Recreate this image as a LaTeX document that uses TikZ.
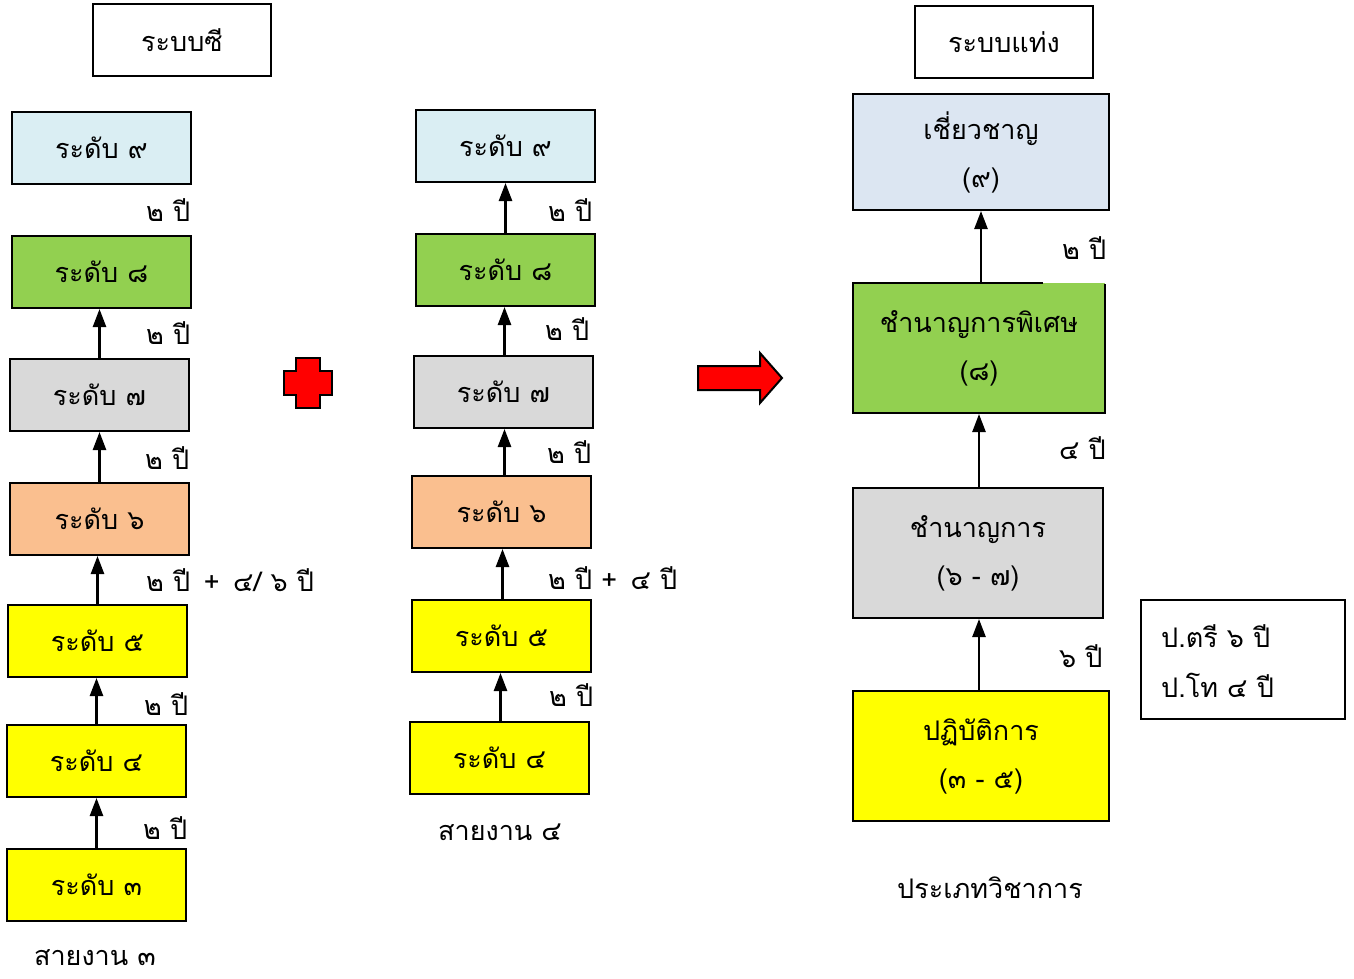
\documentclass[tikz,border=0pt]{standalone}
\usepackage{fontspec}
\newfontfamily\thai[Script=Thai]{Loma}
\usetikzlibrary{arrows.meta}
\definecolor{lblue}{HTML}{DAEEF3}
\definecolor{lgreen}{HTML}{92D050}
\definecolor{lgrey}{HTML}{D9D9D9}
\definecolor{peach}{HTML}{FABF8F}
\definecolor{yel}{HTML}{FFFF00}
\definecolor{bgrey}{HTML}{DCE6F2}
\definecolor{red0}{HTML}{FF0000}
\newcommand\tf{\thai\fontsize{27}{32}\selectfont}
\tikzset{
  box/.style={draw, line width=2pt, minimum width=179pt, minimum height=72pt, inner sep=0pt, font=\tf},
  bigbox/.style={draw, line width=2pt, inner sep=0pt, align=center, font=\thai\fontsize{27}{48}\selectfont},
  lbl/.style={anchor=west, inner sep=0pt, font=\tf},
  captxt/.style={inner sep=0pt, font=\tf},
  arr/.style={-{Triangle[length=18pt,width=13pt]}, line width=2.5pt},
  shp/.style={fill=red0, draw=black, line width=2pt, line join=miter}
}
\begin{document}
\begin{tikzpicture}[x=1pt, y=-1pt]
\useasboundingbox (0,0) rectangle (1354,979);
% titles
\node[box, fill=white, minimum width=178pt] (t1) at (182,40) {ระบบซี};
\node[box, fill=white, minimum width=178pt] (t2) at (1004,42) {ระบบแท่ง};
% left column
\node[box, fill=lblue] (L9) at (101.5,148) {ระดับ ๙};
\node[box, fill=lgreen] (L8) at (101.5,272) {ระดับ ๘};
\node[box, fill=lgrey] (L7) at (99.5,395) {ระดับ ๗};
\node[box, fill=peach] (L6) at (99.5,519) {ระดับ ๖};
\node[box, fill=yel] (L5) at (97.5,641) {ระดับ ๕};
\node[box, fill=yel] (L4) at (96.5,761) {ระดับ ๔};
\node[box, fill=yel] (L3) at (96.5,885) {ระดับ ๓};
\draw[arr] (L7.north) -- (L7.north |- L8.south);
\draw[arr] (L6.north) -- (L6.north |- L7.south);
\draw[arr] (L5.north) -- (L5.north |- L6.south);
\draw[arr] (L4.north) -- (L4.north |- L5.south);
\draw[arr] (L3.north) -- (L3.north |- L4.south);
\node[lbl] (la) at (146,210) {๒ ปี};
\node[lbl] (lb) at (146,333) {๒ ปี};
\node[lbl] (lc) at (145,458) {๒ ปี};
\node[lbl] (ld) at (146,580) {๒ ปี \,+\, ๔/ ๖ ปี};
\node[lbl] (le) at (144,704) {๒ ปี};
\node[lbl] (lf) at (143,828) {๒ ปี};
\node[captxt] (c3) at (95,958) {สายงาน ๓};
% middle column
\node[box, fill=lblue] (M9) at (505.5,146) {ระดับ ๙};
\node[box, fill=lgreen] (M8) at (505.5,270) {ระดับ ๘};
\node[box, fill=lgrey] (M7) at (503.5,392) {ระดับ ๗};
\node[box, fill=peach] (M6) at (501.5,512) {ระดับ ๖};
\node[box, fill=yel] (M5) at (501.5,636) {ระดับ ๕};
\node[box, fill=yel] (M4) at (499.5,758) {ระดับ ๔};
\draw[arr] (M8.north) -- (M8.north |- M9.south);
\draw[arr] ([xshift=1pt]M7.north) -- ([xshift=1pt]M7.north |- M8.south);
\draw[arr] ([xshift=3pt]M6.north) -- ([xshift=3pt]M6.north |- M7.south);
\draw[arr] ([xshift=1pt]M5.north) -- ([xshift=1pt]M5.north |- M6.south);
\draw[arr] ([xshift=1pt]M4.north) -- ([xshift=1pt]M4.north |- M5.south);
\node[lbl] (ma) at (548,210) {๒ ปี};
\node[lbl] (mb) at (545,329) {๒ ปี};
\node[lbl] (mc) at (547,452) {๒ ปี};
\node[lbl] (md) at (548,578) {๒ ปี +\, ๔ ปี};
\node[lbl] (me) at (549,695) {๒ ปี};
\node[captxt] (c4) at (500,832) {สายงาน ๔};
% plus sign
\draw[shp] (296,358) -- (320,358) -- (320,371) -- (332,371) -- (332,395) -- (320,395) -- (320,408) -- (296,408) -- (296,395) -- (284,395) -- (284,371) -- (296,371) -- cycle;
% red arrow
\draw[shp] (698,366) -- (760,366) -- (760,353) -- (782,378) -- (760,403) -- (760,390) -- (698,390) -- cycle;
% right column
\node[bigbox, fill=bgrey, minimum width=256pt, minimum height=116pt] (R9) at (981,152) {เชี่ยวชาญ\\(๙)};
\fill[lgreen] (853,283) rectangle (1105,413);
\draw[line width=2pt] (1043,283) -- (853,283) -- (853,413) -- (1105,413) -- (1105,284);
\node[bigbox, draw=none, minimum width=252pt, minimum height=130pt] (R8) at (979,348) {ชำนาญการพิเศษ\\(๘)};
\node[bigbox, fill=lgrey, minimum width=250pt, minimum height=130pt] (R7) at (978,553) {ชำนาญการ\\(๖ - ๗)};
\node[bigbox, fill=yel, minimum width=256pt, minimum height=130pt] (R3) at (981,756) {ปฏิบัติการ\\(๓ - ๕)};
\draw[arr] ([xshift=2pt]R8.north) -- ([xshift=2pt]R8.north |- R9.south);
\draw[arr] ([xshift=1pt]R7.north) -- ([xshift=1pt]R7.north |- R8.south);
\draw[arr] ([xshift=-2pt]R3.north) -- ([xshift=-2pt]R3.north |- R7.south);
\node[lbl] (ra) at (1062,248) {๒ ปี};
\node[lbl] (rb) at (1059,448) {๔ ปี};
\node[lbl] (rc) at (1059,656) {๖ ปี};
\node[captxt] (c5) at (990,888) {ประเภทวิชาการ};
% info box
\node[draw, line width=2pt, minimum width=204pt, minimum height=119pt, inner sep=0pt] (info) at (1243,659.5) {};
\node[lbl, align=left, font=\thai\fontsize{27}{50}\selectfont] (infot) at (1161,661) {ป.ตรี ๖ ปี\\ป.โท ๔ ปี};
\end{tikzpicture}
\end{document}
